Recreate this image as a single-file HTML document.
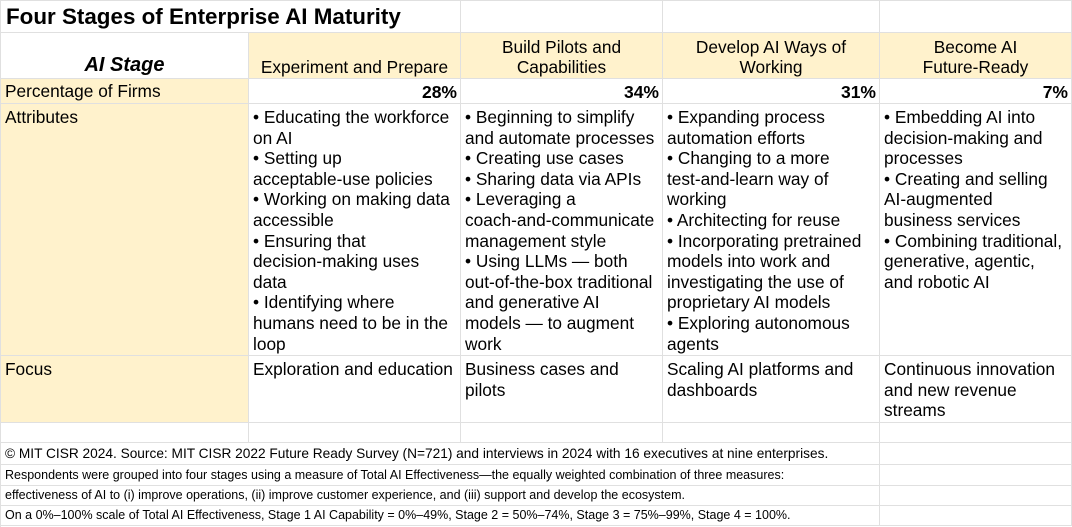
<!DOCTYPE html>
<html><head><meta charset="utf-8"><style>
body{margin:0;width:1072px;height:527px;background:#fff;overflow:hidden;font-family:"Liberation Sans",Arial,sans-serif;color:#000;}
.c{position:absolute;box-sizing:border-box;border-right:1px solid #e0e0e0;border-bottom:1px solid #e0e0e0;font-size:17.3px;line-height:20.6px;white-space:nowrap;overflow:visible;}
.y{background:#fff2cc;}
.t{padding:3px 0 0 4px;}
.h{display:flex;flex-direction:column;justify-content:flex-end;align-items:center;text-align:center;padding-bottom:0px;}
.p{text-align:right;font-weight:bold;padding:3px 3px 0 0;font-size:17.5px;}
</style></head><body>
<div style="position:absolute;left:0;top:0;width:1072px;height:1px;background:#e0e0e0"></div>
<div style="position:absolute;left:0;top:0;width:1px;height:527px;background:#e0e0e0"></div>
<div class="c" style="left:1px;top:1px;width:460px;height:32px;font-size:22.4px;font-weight:bold;padding:5px 0 0 5px;line-height:22px">Four Stages of Enterprise AI Maturity</div>
<div class="c" style="left:461px;top:1px;width:202px;height:32px"></div>
<div class="c" style="left:663px;top:1px;width:217px;height:32px"></div>
<div class="c" style="left:880px;top:1px;width:192px;height:32px"></div>
<div class="c h" style="left:1px;top:33px;width:248px;height:46px;font-weight:bold;font-style:italic;font-size:20px;padding-bottom:2px">AI Stage</div>
<div class="c y h" style="left:249px;top:33px;width:212px;height:46px">Experiment and Prepare</div>
<div class="c y h" style="left:461px;top:33px;width:202px;height:46px">Build Pilots and<br>Capabilities</div>
<div class="c y h" style="left:663px;top:33px;width:217px;height:46px">Develop AI Ways of<br>Working</div>
<div class="c y h" style="left:880px;top:33px;width:192px;height:46px">Become AI<br>Future-Ready</div>
<div class="c y t" style="left:1px;top:79px;width:248px;height:25px;padding-left:4px;padding-top:2px">Percentage of Firms</div>
<div class="c p" style="left:249px;top:79px;width:212px;height:25px">28%</div>
<div class="c p" style="left:461px;top:79px;width:202px;height:25px">34%</div>
<div class="c p" style="left:663px;top:79px;width:217px;height:25px">31%</div>
<div class="c p" style="left:880px;top:79px;width:192px;height:25px">7%</div>
<div class="c y t" style="left:1px;top:104px;width:248px;height:252px">Attributes</div>
<div class="c t" style="left:249px;top:104px;width:212px;height:252px">• Educating the workforce<br>on AI<br>• Setting up<br>acceptable-use policies<br>• Working on making data<br>accessible<br>• Ensuring that<br>decision-making uses<br>data<br>• Identifying where<br>humans need to be in the<br>loop</div>
<div class="c t" style="left:461px;top:104px;width:202px;height:252px">• Beginning to simplify<br>and automate processes<br>• Creating use cases<br>• Sharing data via APIs<br>• Leveraging a<br>coach-and-communicate<br>management style<br>• Using LLMs — both<br>out-of-the-box traditional<br>and generative AI<br>models — to augment<br>work</div>
<div class="c t" style="left:663px;top:104px;width:217px;height:252px">• Expanding process<br>automation efforts<br>• Changing to a more<br>test-and-learn way of<br>working<br>• Architecting for reuse<br>• Incorporating pretrained<br>models into work and<br>investigating the use of<br>proprietary AI models<br>• Exploring autonomous<br>agents</div>
<div class="c t" style="left:880px;top:104px;width:192px;height:252px">• Embedding AI into<br>decision-making and<br>processes<br>• Creating and selling<br>AI-augmented<br>business services<br>• Combining traditional,<br>generative, agentic,<br>and robotic AI</div>
<div class="c y t" style="left:1px;top:356px;width:248px;height:67px">Focus</div>
<div class="c t" style="left:249px;top:356px;width:212px;height:67px">Exploration and education</div>
<div class="c t" style="left:461px;top:356px;width:202px;height:67px">Business cases and<br>pilots</div>
<div class="c t" style="left:663px;top:356px;width:217px;height:67px">Scaling AI platforms and<br>dashboards</div>
<div class="c t" style="left:880px;top:356px;width:192px;height:67px">Continuous innovation<br>and new revenue<br>streams</div>
<div class="c" style="left:1px;top:423px;width:248px;height:20px"></div>
<div class="c" style="left:249px;top:423px;width:212px;height:20px"></div>
<div class="c" style="left:461px;top:423px;width:202px;height:20px"></div>
<div class="c" style="left:663px;top:423px;width:217px;height:20px"></div>
<div class="c" style="left:880px;top:423px;width:192px;height:20px"></div>
<div class="c" style="left:1px;top:443px;width:879px;height:22px;font-size:13.7px;line-height:21px;padding-left:4px">© MIT CISR 2024. Source: MIT CISR 2022 Future Ready Survey (N=721) and interviews in 2024 with 16 executives at nine enterprises.</div>
<div class="c" style="left:880px;top:443px;width:192px;height:22px"></div>
<div class="c" style="left:1px;top:465px;width:879px;height:21px;font-size:12.5px;line-height:20px;padding-left:4px">Respondents were grouped into four stages using a measure of Total AI Effectiveness—the equally weighted combination of three measures:</div>
<div class="c" style="left:880px;top:465px;width:192px;height:21px"></div>
<div class="c" style="left:1px;top:486px;width:879px;height:20px;font-size:12.5px;line-height:19px;padding-left:4px">effectiveness of AI to (i) improve operations, (ii) improve customer experience, and (iii) support and develop the ecosystem.</div>
<div class="c" style="left:880px;top:486px;width:192px;height:20px"></div>
<div class="c" style="left:1px;top:506px;width:879px;height:20px;font-size:12.5px;line-height:19px;padding-left:4px">On a 0%–100% scale of Total AI Effectiveness, Stage 1 AI Capability = 0%–49%, Stage 2 = 50%–74%, Stage 3 = 75%–99%, Stage 4 = 100%.</div>
<div class="c" style="left:880px;top:506px;width:192px;height:20px"></div>
</body></html>
